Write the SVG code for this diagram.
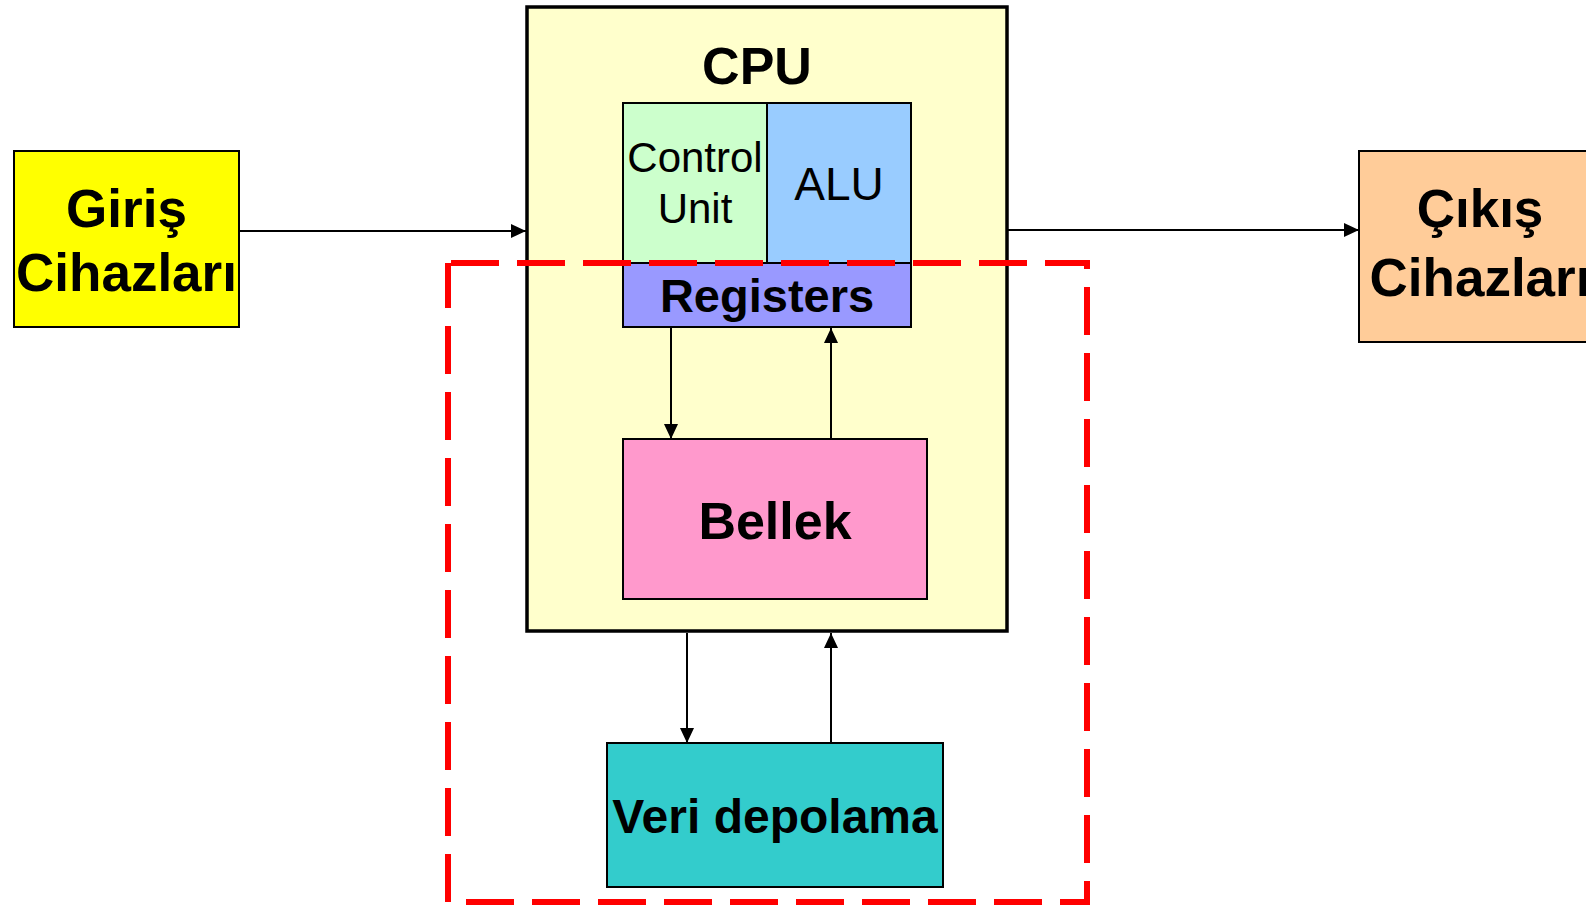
<svg xmlns="http://www.w3.org/2000/svg" width="1586" height="905" viewBox="0 0 1586 905">
  <defs>
    <style>
      .box { stroke: #000; stroke-width: 2; }
      .t { font-family: "Liberation Sans", Arial, sans-serif; fill: #000; text-anchor: middle; }
      .b { font-weight: bold; }
      .conn { stroke: #000; stroke-width: 2; fill: none; marker-end: url(#arrow); }
    </style>
    <marker id="arrow" markerUnits="userSpaceOnUse" markerWidth="15" markerHeight="14" refX="15" refY="7" orient="auto">
      <path d="M0,0 L15,7 L0,14 z" fill="#000"/>
    </marker>
  </defs>
  <rect width="1586" height="905" fill="#fff"/>

  <g id="cpu">
    <rect x="527" y="7" width="480" height="624" fill="#FFFFCC" stroke="#000" stroke-width="3.5"/>
    <text class="t b" x="757" y="84" font-size="52">CPU</text>
  </g>

  <g id="giris">
    <rect class="box" x="14" y="151" width="225" height="176" fill="#FFFF00"/>
    <text class="t b" x="126.5" y="227" font-size="53">Giriş</text>
    <text class="t b" x="126.5" y="291" font-size="53">Cihazları</text>
  </g>

  <g id="cikis">
    <rect class="box" x="1359" y="151" width="242" height="191" fill="#FFCC99"/>
    <text class="t b" x="1480" y="227" font-size="53">Çıkış</text>
    <text class="t b" x="1480" y="296" font-size="53">Cihazları</text>
  </g>

  <g id="control-unit">
    <rect class="box" x="623" y="103" width="144" height="160" fill="#CCFFCC"/>
    <text class="t" x="695" y="172" font-size="42">Control</text>
    <text class="t" x="695" y="223" font-size="42">Unit</text>
  </g>

  <g id="alu">
    <rect class="box" x="767" y="103" width="144" height="160" fill="#99CCFF"/>
    <text class="t" x="839" y="200" font-size="46">ALU</text>
  </g>

  <g id="registers">
    <rect class="box" x="623" y="263" width="288" height="64" fill="#9999FF"/>
    <text class="t b" x="767" y="312" font-size="47">Registers</text>
  </g>

  <g id="bellek">
    <rect class="box" x="623" y="439" width="304" height="160" fill="#FF99CC"/>
    <text class="t b" x="775" y="539" font-size="52">Bellek</text>
  </g>

  <g id="veri-depolama">
    <rect class="box" x="607" y="743" width="336" height="144" fill="#33CCCC"/>
    <text class="t b" x="775" y="833" font-size="48">Veri depolama</text>
  </g>

  <g id="connectors">
    <line class="conn" x1="239" y1="231" x2="526" y2="231"/>
    <line class="conn" x1="1008" y1="230" x2="1359" y2="230"/>
    <line class="conn" x1="671" y1="328" x2="671" y2="439"/>
    <line class="conn" x1="831" y1="439" x2="831" y2="328"/>
    <line class="conn" x1="687" y1="633" x2="687" y2="743"/>
    <line class="conn" x1="831" y1="743" x2="831" y2="633"/>
  </g>

  <g id="highlight">
    <rect x="448" y="263" width="639" height="639" fill="none" stroke="#FF0000" stroke-width="6" stroke-dasharray="48 18" stroke-dashoffset="-3"/>
  </g>
</svg>
